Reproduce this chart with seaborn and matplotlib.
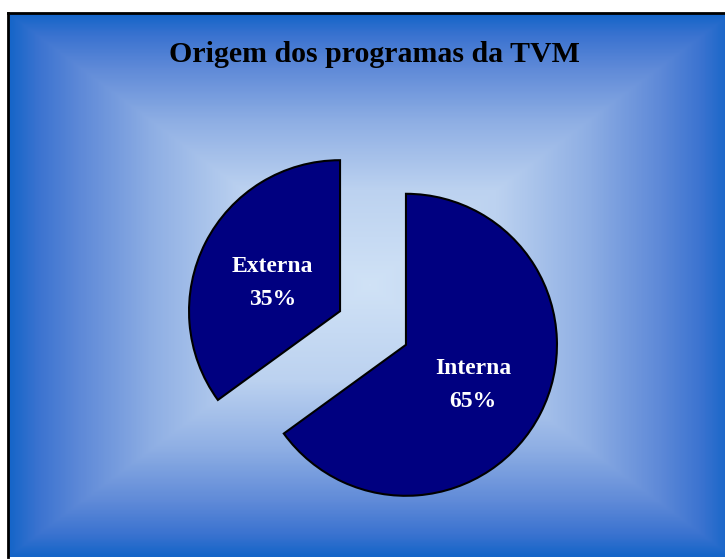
import numpy as np
import matplotlib
matplotlib.use("Agg")
import matplotlib.pyplot as plt
from matplotlib.colors import LinearSegmentedColormap
import seaborn as sns

# ---- data ----
categories = ["Externa", "Interna"]
values = [35, 65]
title = "Origem dos programas da TVM"

sns.set_style("white")
plt.rcParams["font.family"] = ["Liberation Serif", "DejaVu Serif"]

W, H = 725, 560
fig = plt.figure(figsize=(W / 100, H / 100), dpi=100)
fig.patch.set_facecolor("white")

# background frame (rectangular gradient)
fx0, fy0, fx1, fy1 = 8, 13, 732, 557  # pixel coords (top-left origin)
bg = fig.add_axes([fx0 / W, 1 - fy1 / H, (fx1 - fx0) / W, (fy1 - fy0) / H])
nx, ny = 400, 300
xs = np.linspace(-1, 1, nx)
ys = np.linspace(-1, 1, ny)
X, Y = np.meshgrid(xs, ys)
T = np.maximum(np.abs(X), np.abs(Y))
cmap = LinearSegmentedColormap.from_list(
    "bg",
    [(0.0, "#d0e2f6"), (0.35, "#bcd2f0"), (0.6, "#8fafe4"),
     (0.8, "#5f8ad8"), (0.92, "#3b73d0"), (1.0, "#1565c8")],
)
bg.imshow(T, cmap=cmap, vmin=0, vmax=1, aspect="auto", extent=[0, 1, 0, 1],
          interpolation="bilinear")
bg.set_xticks([])
bg.set_yticks([])
for s in ["right", "bottom"]:
    bg.spines[s].set_visible(False)
for s in ["left", "top"]:
    bg.spines[s].set_visible(True)
    bg.spines[s].set_color("black")
    bg.spines[s].set_linewidth(2)
bg.set_xlim(0, 1)
bg.set_ylim(0, 1)

fig.text(374 / W, 1 - 55 / H, title, ha="center", va="center",
         fontsize=21.5, fontweight="bold", color="black")

# pie axes
cx, cy = 373, 328
R = 151
ax = fig.add_axes([(cx - R) / W, 1 - (cy + R) / H, 2 * R / W, 2 * R / H])
ax.set_facecolor("none")
wedges, texts, autotexts = ax.pie(
    values,
    labels=None,
    startangle=90,
    counterclock=True,
    explode=[0.245, 0.245],
    colors=["#000080", "#000080"],
    wedgeprops=dict(edgecolor="black", linewidth=1.5),
    autopct="%1.0f%%",
    pctdistance=0.5,
    radius=1.0,
)
for cat, t in zip(categories, autotexts):
    t.set_text(f"{cat}\n{t.get_text()}")
    t.set_color("white")
    t.set_fontweight("bold")
    t.set_fontsize(17)
    t.set_linespacing(1.75)
    x, y = t.get_position()
    t.set_position((x, y - 0.04))
ax.set_xlim(-1, 1)
ax.set_ylim(-1, 1)
ax.set_aspect("equal")
ax.axis("off")

fig.savefig("out.png", dpi=100, facecolor="white")
